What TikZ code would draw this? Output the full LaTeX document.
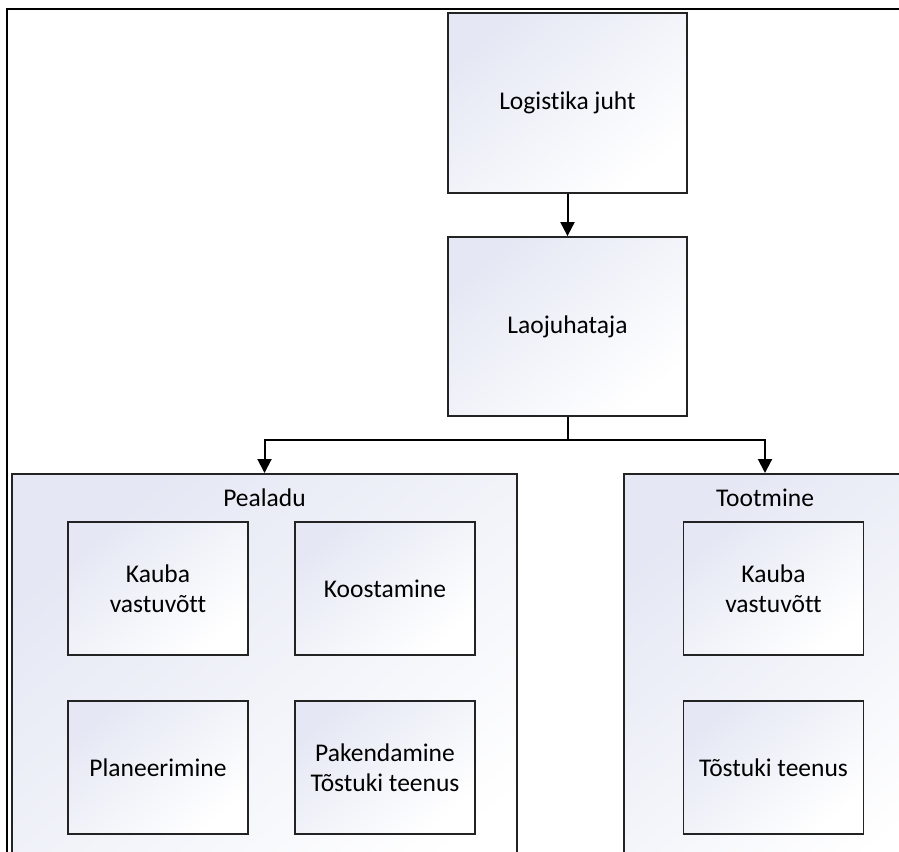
\documentclass[tikz,border=0pt]{standalone}
\usepackage{fontspec}
\setmainfont{Carlito}[Ligatures=NoCommon]
\usetikzlibrary{arrows.meta}

\definecolor{boxtint}{RGB}{229,232,244}
\definecolor{boxline}{RGB}{35,35,35}

\tikzset{
  tinted/.style={top color=boxtint, middle color=white!88!boxtint,
    bottom color=white, shading angle=40},
  labelfont/.style={font=\fontsize{25.5}{30}\selectfont},
  unit/.style={tinted, draw=boxline, line width=1.8pt, rectangle,
    inner sep=0pt, align=center, labelfont},
  bigunit/.style={unit, minimum width=239pt, minimum height=180pt},
  smallunit/.style={unit, minimum width=180pt, minimum height=133pt},
  group/.style={tinted, draw=boxline, line width=1.8pt, rectangle,
    inner sep=0pt, minimum height=450pt, anchor=north},
  grouplabel/.style={labelfont, anchor=base, inner sep=0pt},
  link/.style={line width=2pt, -{Triangle[length=14pt,width=14pt]}},
}

\begin{document}
\begin{tikzpicture}[x=1pt, y=-1pt]
  \useasboundingbox (0,0) rectangle (899,851);
  \clip (0,0) rectangle (899,851);
  \fill[white] (0,0) rectangle (899,851);

  % management chain
  \node[bigunit] (chief) at (567.5,103) {Logistika juht};
  \node[bigunit, minimum height=179pt] (head) at (567.5,326.5) {Laojuhataja};

  % departments
  \node[group, minimum width=505pt] (upper) at (264.5,473) {};
  \node[group, minimum width=282pt] (prod) at (765,473) {};
  \node[grouplabel] (upperlbl) at (264.5,506) {Pealadu};
  \node[grouplabel] (prodlbl) at (765,506) {Tootmine};

  % tasks of the upper warehouse
  \node[smallunit] (intake) at (158,588.5) {Kauba\\vastuvõtt};
  \node[smallunit] (assembly) at (385,588.5) {Koostamine};
  \node[smallunit] (planning) at (158,767.5) {Planeerimine};
  \node[smallunit] (packing) at (385,767.5) {Pakendamine\\Tõstuki teenus};

  % tasks of production
  \node[smallunit] (prodintake) at (773.5,588.5) {Kauba\\vastuvõtt};
  \node[smallunit] (forklift) at (773.5,767.5) {Tõstuki teenus};

  % connectors
  \draw[link] (chief.south) -- (head.north);
  \path (head.south) ++(0,23) coordinate (split);
  \draw[line width=2pt] (head.south) -- (split);
  \draw[link] (split) -| (upper.north);
  \draw[link] (split) -| (prod.north);

  % page frame
  \draw[line width=2.8pt] (7,960) -- (7,9) -- (960,9);
\end{tikzpicture}
\end{document}
